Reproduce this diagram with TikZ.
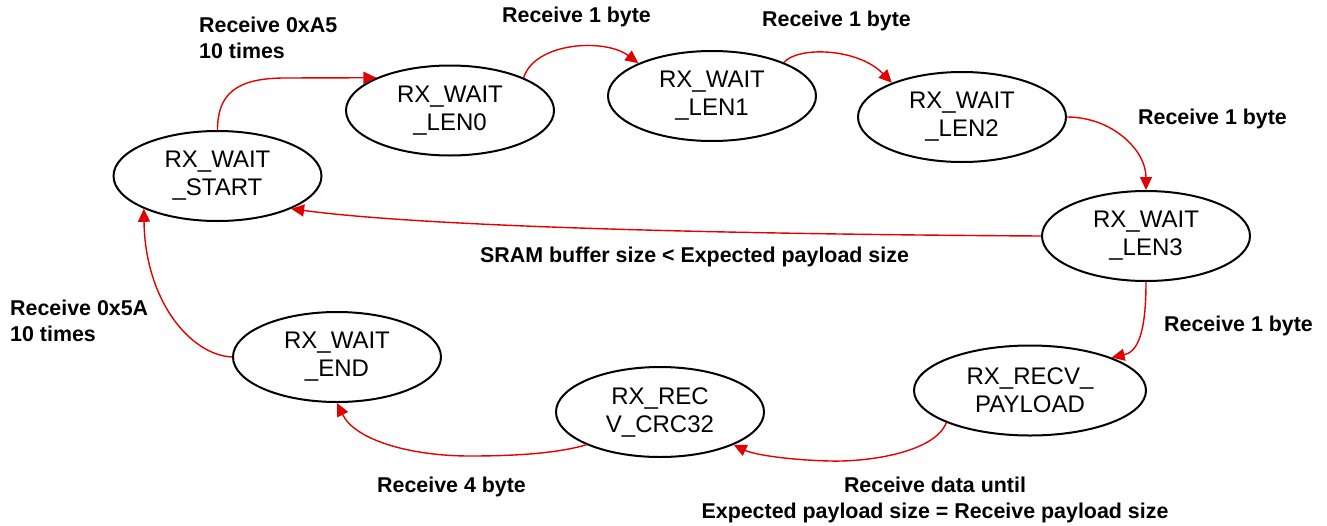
\documentclass[tikz,border=0pt]{standalone}
\usepackage{fontspec}
\setmainfont{Liberation Sans}
\usetikzlibrary{arrows.meta,shapes.geometric}
\definecolor{linkred}{RGB}{226,0,0}
\begin{document}
\begin{tikzpicture}[x=1pt,y=-1pt,
  state/.style={ellipse,draw=black,line width=2pt,minimum width=208pt,
    minimum height=90pt,inner sep=0pt,align=center,
    font=\fontsize{24}{28}\selectfont,
    % balance the underscore depth so the capitals sit centred
    execute at begin node={\rule{0pt}{21.7pt}}},
  lbl/.style={font=\bfseries\fontsize{21.4}{26}\selectfont,inner sep=0pt},
  link/.style={draw=linkred,line width=1.4pt,
    -{Triangle[length=13pt,width=12pt]}}]
\useasboundingbox (0,0) rectangle (1327,525);

% receiver states
\node[state] (start) at (217.5,176) {RX\_WAIT\\\_START};
\node[state] (len0) at (450,110.5) {RX\_WAIT\\\_LEN0};
\node[state] (len1) at (712,96) {RX\_WAIT\\\_LEN1};
\node[state] (len2) at (962,117) {RX\_WAIT\\\_LEN2};
\node[state] (len3) at (1146,236) {RX\_WAIT\\\_LEN3};
\node[state,minimum width=232pt] (payload) at (1030,390.5) {RX\_RECV\_\\PAYLOAD};
\node[state] (crc) at (660,412) {RX\_REC\\V\_CRC32};
\node[state] (wend) at (337,357) {RX\_WAIT\\\_END};

% transitions
\path[link] (start.north) .. controls (217.5,95) and (235,78) .. (285,78) -- (len0.156);
\path[link] (len0.24) .. controls (535,42) and (605,38) .. (len1.156);
\path[link] (len1.25) .. controls (798,46) and (858,48) .. (len2.154);
\path[link] (len2.east) .. controls (1112,117) and (1146,150) .. (len3.north);
\path[link] (len3.west) .. controls (700,234) and (420,226) .. (start.336);
\path[link] (len3.south) .. controls (1146,335) and (1137,352) .. (payload.22);
\path[link] (payload.201) .. controls (935,452) and (870,462) .. (830,461)
  .. controls (790,460) and (755,455) .. (crc.336);
\path[link] (crc.204) .. controls (555,454) and (510,456) .. (470,456)
  .. controls (410,456) and (355,440) .. (wend.south);
\path[link] (wend.west) .. controls (190,355) and (145,300) .. (start.204);

% transition labels
\node[lbl,anchor=north west,align=left] (la5) at (199,16.6) {Receive 0xA5\\10 times};
\node[lbl,anchor=base west] (lb1) at (502,22) {Receive 1 byte};
\node[lbl,anchor=base west] (lb2) at (762,26) {Receive 1 byte};
\node[lbl,anchor=base west] (lb3) at (1138,124) {Receive 1 byte};
\node[lbl,anchor=base west] (lsram) at (480,262) {SRAM buffer size < Expected payload size};
\node[lbl,anchor=base west] (lb4) at (1164,331) {Receive 1 byte};
\node[lbl,anchor=north west,align=left] (l5a) at (10,299.6) {Receive 0x5A\\10 times};
\node[lbl,anchor=base west] (lb5) at (377,492) {Receive 4 byte};
\node[lbl,anchor=north,align=center] (ldata) at (935,476.6)
  {Receive data until\\Expected payload size = Receive payload size};
\end{tikzpicture}
\end{document}
